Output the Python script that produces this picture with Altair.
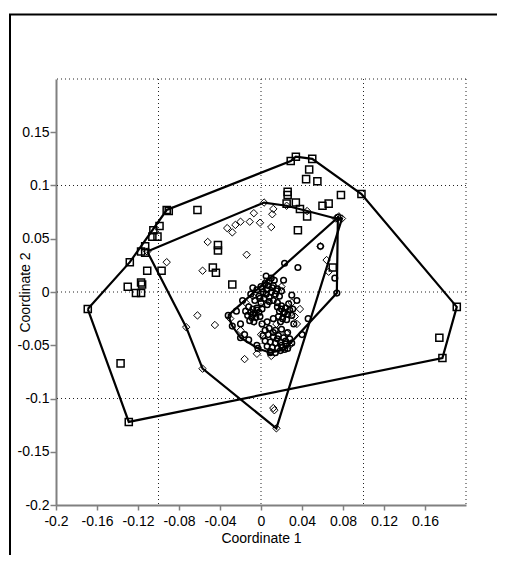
import altair as alt
import pandas as pd

# ---- group 1: squares ----
sq_x = [-0.169, -0.128, -0.092, -0.090, 0.029, 0.034, 0.050, 0.098, 0.191, 0.177, -0.129,
        -0.062, -0.099, -0.105, -0.101, -0.106, -0.113, -0.117, -0.113, -0.111, -0.097,
        -0.130, -0.117, -0.116, -0.122, -0.117, -0.042, -0.042, -0.047, -0.044, -0.028,
        0.026, 0.026, 0.025, 0.034, 0.038, 0.045, 0.036, 0.060, 0.066, 0.078, 0.047,
        0.044, 0.055, 0.070, 0.174, -0.137]
sq_y = [-0.016, 0.028, 0.077, 0.076, 0.123, 0.127, 0.125, 0.092, -0.014, -0.062, -0.122,
        0.077, 0.062, 0.058, 0.052, 0.052, 0.043, 0.038, 0.037, 0.020, 0.020,
        0.005, 0.009, 0.007, -0.001, -0.001, 0.044, 0.039, 0.023, 0.018, 0.007,
        0.094, 0.091, 0.083, 0.084, 0.078, 0.071, 0.058, 0.081, 0.083, 0.091, 0.115,
        0.106, 0.104, 0.023, -0.043, -0.067]

# ---- group 2: diamonds ----
dm_x = [-0.111, 0.003, 0.025, 0.045, 0.073, 0.079, 0.076, 0.015, -0.057, -0.073,
        -0.092, -0.052, -0.014, -0.057, -0.062, -0.045, -0.020, -0.016, -0.004, 0.012,
        0.013, -0.033, -0.028, -0.025, -0.020, -0.011, -0.007, -0.001, 0.010, 0.011,
        0.012, 0.064, 0.066, 0.058, 0.038, 0.033, 0.035, 0.025, -0.008, 0.005,
        0.015, 0.000, 0.020, -0.015, 0.028, 0.010, -0.030, 0.030]
dm_y = [0.038, 0.084, 0.081, 0.076, 0.069, 0.069, 0.071, -0.128, -0.072, -0.033,
        0.028, 0.047, 0.035, 0.020, -0.022, -0.031, -0.036, -0.063, -0.058, -0.109,
        -0.111, 0.060, 0.056, 0.063, 0.066, 0.066, 0.074, 0.065, 0.061, 0.073,
        0.078, 0.030, 0.019, 0.043, -0.016, -0.023, -0.030, -0.039, -0.004, 0.010,
        -0.030, -0.040, 0.005, -0.010, -0.050, -0.060, -0.025, -0.010]

# ---- group 3: circles ----
ci_x = [-0.032, -0.028, -0.020, -0.003, 0.009, 0.023, 0.074, 0.075,
        0.000, 0.004, 0.008, 0.012, 0.016, 0.002, 0.006, 0.010, 0.014, 0.018, -0.004,
        -0.002, 0.003, 0.008, 0.012, 0.016, -0.006, 0.000, 0.006, 0.010, 0.005, -0.008,
        0.020, 0.013, -0.010, 0.008, 0.001, 0.005, 0.011, 0.007, 0.015, -0.001,
        -0.012, -0.008, -0.004, -0.010, -0.006, -0.002, -0.013, -0.009, -0.005, -0.001,
        -0.007, -0.011, 0.001, -0.015, -0.008, -0.004,
        0.016, 0.020, 0.024, 0.028, 0.018, 0.022, 0.026, 0.030, 0.017, 0.021, 0.025,
        0.019, 0.027, 0.031, 0.023, 0.020,
        0.004, 0.008, 0.014, 0.020, 0.026, 0.002, 0.007, 0.012, 0.017, 0.022, 0.028,
        0.004, 0.009, 0.014, 0.019, 0.024, 0.006, 0.011, 0.016, 0.021, 0.026, 0.009,
        0.014, 0.019, 0.030, 0.001, 0.016, 0.020, 0.012, 0.024,
        -0.020, -0.016, -0.024, -0.018, 0.030, 0.035, 0.032, 0.012, 0.006, -0.012,
        -0.004, 0.022, 0.036, 0.023, 0.058, 0.072, 0.040, 0.046]
ci_y = [-0.022, -0.032, -0.043, -0.053, -0.057, -0.054, -0.001, 0.070,
        0.005, 0.008, 0.010, 0.006, 0.003, 0.000, 0.002, 0.000, -0.002, -0.004, 0.002,
        -0.004, -0.006, -0.005, -0.008, -0.010, -0.008, -0.010, -0.012, 0.013, 0.015, 0.004,
        0.001, 0.011, -0.002, -0.009, 0.003, -0.002, 0.004, 0.006, 0.001, -0.006,
        -0.014, -0.016, -0.015, -0.019, -0.020, -0.019, -0.022, -0.024, -0.024, -0.023,
        -0.028, -0.027, -0.016, -0.018, -0.021, -0.017,
        -0.014, -0.013, -0.015, -0.017, -0.018, -0.020, -0.021, -0.022, -0.023, -0.025,
        -0.026, -0.028, -0.011, -0.016, -0.019, -0.016,
        -0.036, -0.034, -0.036, -0.035, -0.038, -0.041, -0.040, -0.042, -0.041, -0.043,
        -0.044, -0.046, -0.047, -0.048, -0.047, -0.049, -0.051, -0.052, -0.053, -0.052,
        -0.053, -0.056, -0.057, -0.055, -0.048, -0.030, -0.044, -0.050, -0.038, -0.046,
        -0.030, -0.040, -0.018, -0.008, -0.003, -0.008, -0.030, -0.025, -0.028, -0.045,
        -0.050, 0.011, 0.023, 0.027, 0.043, 0.013, -0.040, -0.025]

# ---- convex hull vertices (closed by repeating the first) ----
hull_sq_x = [-0.169, -0.128, -0.092, 0.029, 0.034, 0.050, 0.098, 0.191, 0.177, -0.129]
hull_sq_y = [-0.016, 0.028, 0.077, 0.123, 0.127, 0.125, 0.092, -0.014, -0.062, -0.122]
hull_dm_x = [-0.111, 0.003, 0.025, 0.045, 0.073, 0.079, 0.015, -0.057, -0.073]
hull_dm_y = [0.038, 0.084, 0.081, 0.076, 0.069, 0.069, -0.128, -0.072, -0.033]
hull_ci_x = [-0.032, 0.075, 0.074, 0.023, 0.009, -0.003, -0.020, -0.028]
hull_ci_y = [-0.022, 0.070, -0.001, -0.054, -0.057, -0.053, -0.043, -0.032]

grid_vals = [-0.1, 0.0, 0.1, 0.2]
x_ticks = [-0.2, -0.16, -0.12, -0.08, -0.04, 0, 0.04, 0.08, 0.12, 0.16]
y_ticks = [-0.2, -0.15, -0.1, -0.05, 0, 0.05, 0.1, 0.15]

FONT = "Liberation Sans"

hull_rows = []
for name, hx, hy in [("sq", hull_sq_x, hull_sq_y), ("dm", hull_dm_x, hull_dm_y), ("ci", hull_ci_x, hull_ci_y)]:
    n = len(hx)
    for i in range(n + 1):
        hull_rows.append({"g": name, "o": i, "x": hx[i % n], "y": hy[i % n]})
hull_df = pd.DataFrame(hull_rows)

xs = alt.Scale(domain=[-0.2, 0.2], nice=False, zero=False)
ys = alt.Scale(domain=[-0.2, 0.2], nice=False, zero=False)

x_axis = alt.Axis(values=x_ticks, labelExpr="'' + datum.value", grid=False,
                  title="Coordinate 1", titleY=37, titleBaseline="alphabetic",
                  labelPadding=4, tickSize=5, labelFlush=False, labelOverlap=False)
y_axis = alt.Axis(values=y_ticks, labelExpr="'' + datum.value", grid=False,
                  title="Coordinate 2", titleX=-27, titleY=213, titleBaseline="alphabetic",
                  titleAngle=270, labelPadding=1, tickSize=6, labelBaseline="middle",
                  labelFlush=False, labelOverlap=False)

grid_df = pd.DataFrame({"v": grid_vals})
gx = alt.Chart(grid_df).mark_rule(color="#222222", strokeWidth=1, strokeDash=[1, 3]).encode(
    x=alt.X("v:Q", scale=xs, axis=x_axis))
gy = alt.Chart(grid_df).mark_rule(color="#222222", strokeWidth=1, strokeDash=[1, 3]).encode(
    y=alt.Y("v:Q", scale=ys, axis=y_axis))

hulls = alt.Chart(hull_df).mark_line(color="black", strokeWidth=2.2).encode(
    x=alt.X("x:Q", scale=xs), y=alt.Y("y:Q", scale=ys), detail="g:N", order="o:Q")

def pts(px, py, shape, size, sw):
    return alt.Chart(pd.DataFrame({"x": px, "y": py})).mark_point(
        shape=shape, size=size, filled=False, color="black", strokeWidth=sw, opacity=1
    ).encode(x=alt.X("x:Q", scale=xs), y=alt.Y("y:Q", scale=ys))

p_sq = pts(sq_x, sq_y, "square", 50, 1.5)
p_dm = pts(dm_x, dm_y, "diamond", 55, 1.0)
p_ci = pts(ci_x, ci_y, "circle", 32, 1.5)

one = pd.DataFrame({"a": [0]})
frame_left = alt.Chart(one).mark_rule(color="black", strokeWidth=2).encode(
    x=alt.value(-46), y=alt.value(-65), y2=alt.value(490))
frame_top = alt.Chart(one).mark_rule(color="black", strokeWidth=2).encode(
    x=alt.value(-47), x2=alt.value(445), y=alt.value(-64.5))

chart = alt.layer(gx, gy, hulls, p_sq, p_dm, p_ci, frame_left, frame_top).properties(
    width=410, height=426,
    autosize=alt.AutoSizeParams(type="none"),
    padding={"left": 48, "top": 71, "right": 31, "bottom": 50},
    background="white",
).configure_view(strokeWidth=0).configure_axis(
    domainColor="#808080", domainWidth=2, tickColor="#808080", tickWidth=1.5,
    labelColor="black", labelFont=FONT, labelFontSize=14,
    titleColor="black", titleFont=FONT, titleFontSize=14, titleFontWeight="normal",
)

chart.save("out.html", embed_options={"renderer": "svg", "actions": False})
